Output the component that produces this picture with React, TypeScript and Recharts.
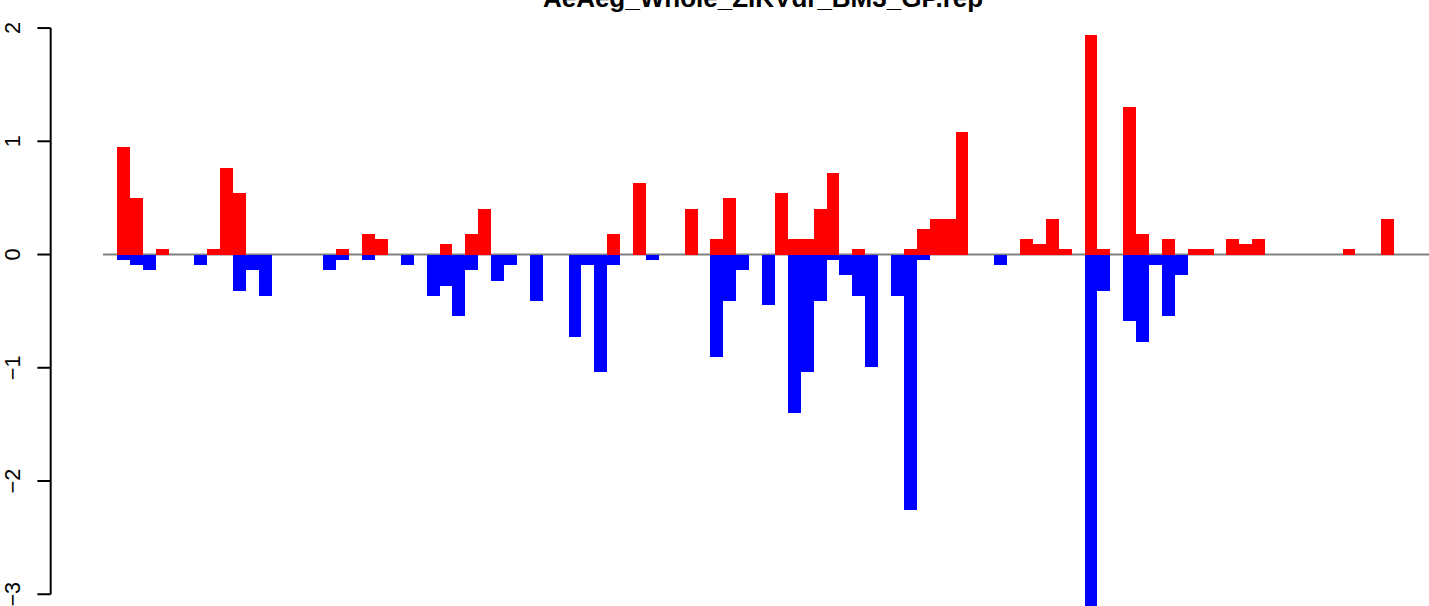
import React from 'react';
import { BarChart, Bar, XAxis, YAxis, ReferenceLine } from 'recharts';

// Positive (red) and negative (blue) values per slot, left to right
const UP = [
  0.95, 0.5, 0, 0.05, 0, 0, 0, 0.05, 0.765, 0.545,
  0, 0, 0, 0, 0, 0, 0, 0.05, 0, 0.18,
  0.135, 0, 0, 0, 0, 0.09, 0, 0.18, 0.4, 0,
  0, 0, 0, 0, 0, 0, 0, 0, 0.18, 0,
  0.63, 0, 0, 0, 0.4, 0, 0.14, 0.5, 0, 0,
  0, 0.545, 0.14, 0.14, 0.4, 0.72, 0, 0.05, 0, 0,
  0, 0.05, 0.225, 0.315, 0.315, 1.08, 0, 0, 0, 0,
  0.14, 0.095, 0.315, 0.05, 0, 1.94, 0.05, 0, 1.3, 0.18,
  0, 0.14, 0, 0.05, 0.05, 0, 0.14, 0.095, 0.14, 0,
  0, 0, 0, 0, 0, 0.05, 0, 0, 0.315,
];

const DOWN = [
  -0.045, -0.09, -0.135, 0, 0, 0, -0.09, 0, 0, -0.32,
  -0.135, -0.365, 0, 0, 0, 0, -0.135, -0.045, 0, -0.045,
  0, 0, -0.09, 0, -0.365, -0.275, -0.54, -0.135, 0, -0.23,
  -0.09, 0, -0.41, 0, 0, -0.725, -0.09, -1.035, -0.09, 0,
  0, -0.045, 0, 0, 0, 0, -0.905, -0.41, -0.135, 0,
  -0.45, 0, -1.4, -1.035, -0.41, -0.045, -0.18, -0.365, -0.99, 0,
  -0.365, -2.255, -0.045, 0, 0, 0, 0, 0, -0.09, 0,
  0, 0, 0, 0, 0, -3.2, -0.32, 0, -0.585, -0.77,
  -0.09, -0.545, -0.18, 0, 0, 0, 0, 0, 0, 0,
  0, 0, 0, 0, 0, 0, 0, 0, 0,
];

const CATEGORIES = UP.map((_, i) => `S${i + 1}`);
const Y_TICKS = [-3, -2, -1, 0, 1, 2];
const PLOT_DOMAIN: [number, number] = [-3.2, 2.2];
const AXIS_DOMAIN: [number, number] = [-3, 2];
const TITLE = 'AeAeg_Whole_ZIKVdr_BM3_GP.rep';

// layout constants (pixels)
const W = 1429;
const H = 606;
const CHART_H = 620;
const AXIS_X = 50.7;
const PLOT_LEFT = 103;
const PLOT_MARGIN = { top: 5.348, right: 0, bottom: 3.05, left: PLOT_LEFT };
const X_PADDING = { left: 14, right: 34.9 };
const FONT = "'Liberation Sans', Arial, Helvetica, sans-serif";

const data = CATEGORIES.map((c, i) => ({ slot: c, up: UP[i], down: DOWN[i] }));

const fmt = (v: number) => (v < 0 ? `\u2212${Math.abs(v)}` : `${v}`);

const YTick = (props: any) => {
  const { y, payload } = props;
  const lx = 19.8;
  return (
    <text
      x={lx}
      y={y}
      transform={`rotate(-90 ${lx} ${y})`}
      textAnchor="middle"
      fontSize={21.7}
      fontFamily={FONT}
      fill="#000"
    >
      {fmt(payload.value)}
    </text>
  );
};

const BarShape = (props: any) => {
  const { x, y, width, height, fill } = props;
  if (!width || !height) return null;
  const x0 = Math.min(x, x + width);
  const y0 = Math.min(y, y + height);
  return (
    <rect
      x={x0}
      y={y0}
      width={Math.abs(width) + 0.03}
      height={Math.abs(height)}
      fill={fill}
      shapeRendering="crispEdges"
    />
  );
};

const layer: React.CSSProperties = { position: 'absolute', left: 0, top: 0, pointerEvents: 'none' };

export default function App() {
  return (
    <div style={{ position: 'relative', width: W, height: H, overflow: 'hidden', background: '#fff' }}>
      <style>{'body{margin:0;}'}</style>
      {/* zero line, beneath the bars */}
      <div style={layer}>
        <BarChart width={W} height={CHART_H} data={data} margin={PLOT_MARGIN}>
          <XAxis dataKey="slot" type="category" hide padding={X_PADDING} />
          <YAxis domain={PLOT_DOMAIN} allowDataOverflow hide />
          <ReferenceLine y={0} stroke="#808080" strokeWidth={1.8} />
        </BarChart>
      </div>
      {/* bars */}
      <div style={layer}>
        <BarChart
          width={W}
          height={CHART_H}
          data={data}
          margin={PLOT_MARGIN}
          barCategoryGap={0}
          barGap={0}
          stackOffset="sign"
        >
          <XAxis dataKey="slot" type="category" hide padding={X_PADDING} />
          <YAxis domain={PLOT_DOMAIN} allowDataOverflow hide />
          <Bar dataKey="up" stackId="s" fill="#FF0000" barSize={12.89} shape={BarShape} isAnimationActive={false} />
          <Bar dataKey="down" stackId="s" fill="#0000FF" barSize={12.89} shape={BarShape} isAnimationActive={false} />
        </BarChart>
      </div>
      {/* y axis */}
      <div style={layer}>
        <BarChart
          width={AXIS_X + 10}
          height={H}
          data={data}
          margin={{ top: 28, right: 10, bottom: H - 594.3, left: 0 }}
        >
          <XAxis dataKey="slot" hide />
          <YAxis
            domain={AXIS_DOMAIN}
            allowDataOverflow
            ticks={Y_TICKS}
            interval={0}
            width={AXIS_X}
            axisLine={{ stroke: '#000', strokeWidth: 2 }}
            tickLine={{ stroke: '#000', strokeWidth: 2 }}
            tickSize={13.3}
            tick={<YTick />}
          />
        </BarChart>
      </div>
      <svg width={W} height={H} style={layer}>
        <text
          x={763}
          y={7.1}
          textAnchor="middle"
          fontSize={26}
          fontWeight="bold"
          fontFamily={FONT}
          fill="#000"
        >
          {TITLE}
        </text>
      </svg>
    </div>
  );
}
